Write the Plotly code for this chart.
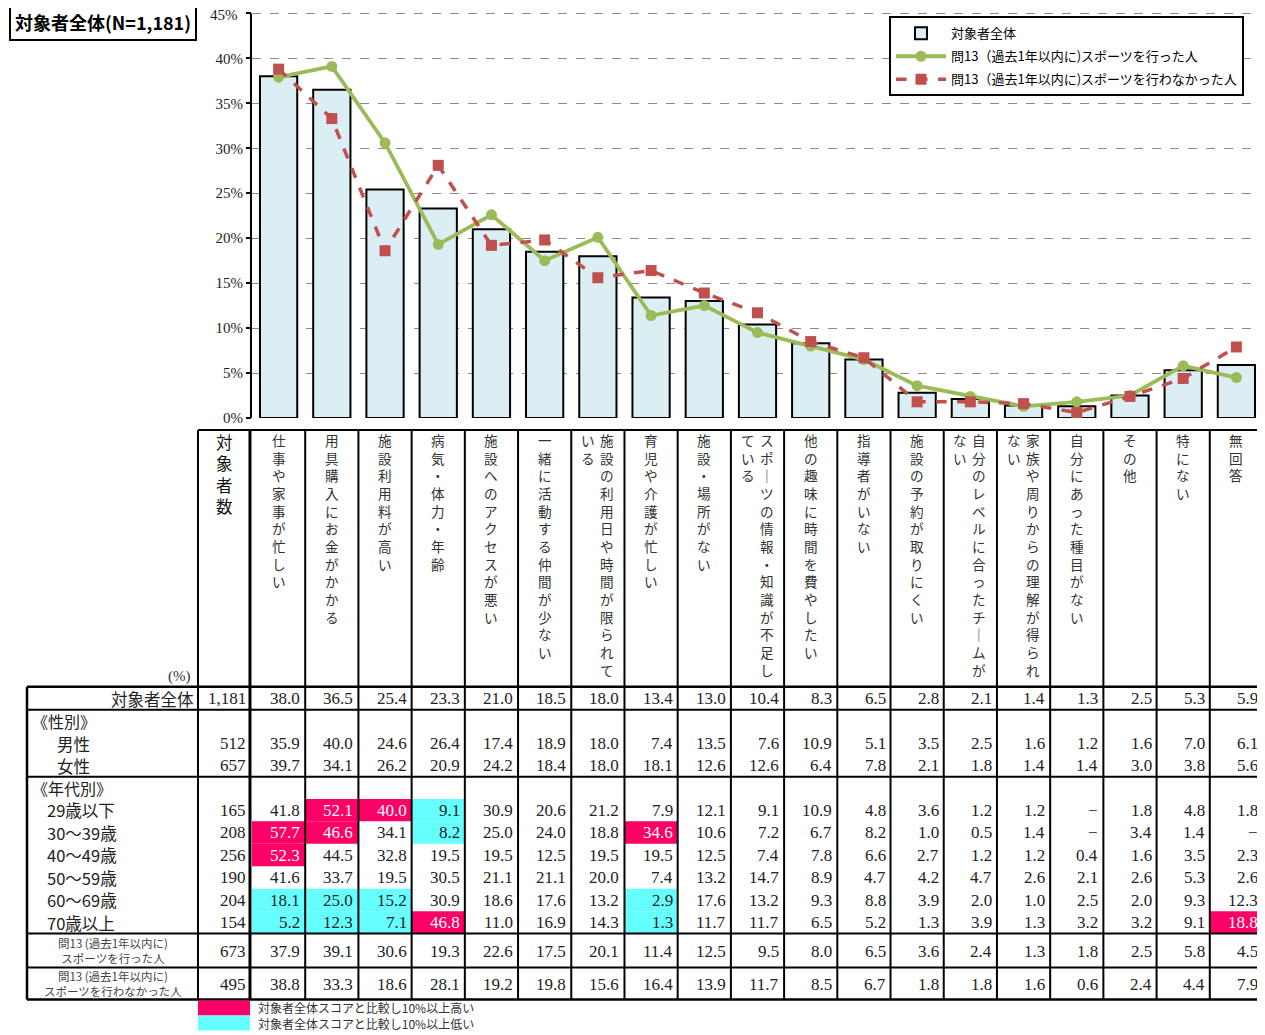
import plotly.graph_objects as go

# ---------------- data ----------------
categories = [
    "仕事や家事が忙しい", "用具購入にお金がかかる", "施設利用料が高い", "病気・体力・年齢",
    "施設へのアクセスが悪い", "一緒に活動する仲間が少ない", "施設の利用日や時間が限られている",
    "育児や介護が忙しい", "施設・場所がない", "スポーツの情報・知識が不足している",
    "他の趣味に時間を費やしたい", "指導者がいない", "施設の予約が取りにくい",
    "自分のレベルに合ったチームがない", "家族や周りからの理解が得られない",
    "自分にあった種目がない", "その他", "特にない", "無回答",
]
overall = [38.0, 36.5, 25.4, 23.3, 21.0, 18.5, 18.0, 13.4, 13.0, 10.4, 8.3, 6.5, 2.8, 2.1, 1.4, 1.3, 2.5, 5.3, 5.9]
did_sport = [37.9, 39.1, 30.6, 19.3, 22.6, 17.5, 20.1, 11.4, 12.5, 9.5, 8.0, 6.5, 3.6, 2.4, 1.3, 1.8, 2.5, 5.8, 4.5]
no_sport = [38.8, 33.3, 18.6, 28.1, 19.2, 19.8, 15.6, 16.4, 13.9, 11.7, 8.5, 6.7, 1.8, 1.8, 1.6, 0.6, 2.4, 4.4, 7.9]

male = [35.9, 40.0, 24.6, 26.4, 17.4, 18.9, 18.0, 7.4, 13.5, 7.6, 10.9, 5.1, 3.5, 2.5, 1.6, 1.2, 1.6, 7.0, 6.1]
female = [39.7, 34.1, 26.2, 20.9, 24.2, 18.4, 18.0, 18.1, 12.6, 12.6, 6.4, 7.8, 2.1, 1.8, 1.4, 1.4, 3.0, 3.8, 5.6]
age_u29 = [41.8, 52.1, 40.0, 9.1, 30.9, 20.6, 21.2, 7.9, 12.1, 9.1, 10.9, 4.8, 3.6, 1.2, 1.2, None, 1.8, 4.8, 1.8]
age_30s = [57.7, 46.6, 34.1, 8.2, 25.0, 24.0, 18.8, 34.6, 10.6, 7.2, 6.7, 8.2, 1.0, 0.5, 1.4, None, 3.4, 1.4, None]
age_40s = [52.3, 44.5, 32.8, 19.5, 19.5, 12.5, 19.5, 19.5, 12.5, 7.4, 7.8, 6.6, 2.7, 1.2, 1.2, 0.4, 1.6, 3.5, 2.3]
age_50s = [41.6, 33.7, 19.5, 30.5, 21.1, 21.1, 20.0, 7.4, 13.2, 14.7, 8.9, 4.7, 4.2, 4.7, 2.6, 2.1, 2.6, 5.3, 2.6]
age_60s = [18.1, 25.0, 15.2, 30.9, 18.6, 17.6, 13.2, 2.9, 17.6, 13.2, 9.3, 8.8, 3.9, 2.0, 1.0, 2.5, 2.0, 9.3, 12.3]
age_70p = [5.2, 12.3, 7.1, 46.8, 11.0, 16.9, 14.3, 1.3, 11.7, 11.7, 6.5, 5.2, 1.3, 3.9, 1.3, 3.2, 3.2, 9.1, 18.8]

n_overall = "1,181"
gender_labels = ["男性", "女性"]
gender_n = [512, 657]
age_labels = ["29歳以下", "30～39歳", "40～49歳", "50～59歳", "60～69歳", "70歳以上"]
age_n = [165, 208, 256, 190, 204, 154]
sport_n = [673, 495]

name_overall = "対象者全体"
name_did = "問13（過去1年以内に)スポーツを行った人"
name_not = "問13（過去1年以内に)スポーツを行わなかった人"
y_ticks = [0, 5, 10, 15, 20, 25, 30, 35, 40, 45]

# header (vertical) text: main column + overflow column to the left
header_main = [
    "仕事や家事が忙しい", "用具購入にお金がかかる", "施設利用料が高い", "病気・体力・年齢",
    "施設へのアクセスが悪い", "一緒に活動する仲間が少ない", "施設の利用日や時間が限られて",
    "育児や介護が忙しい", "施設・場所がない", "スポ｜ツの情報・知識が不足し",
    "他の趣味に時間を費やしたい", "指導者がいない", "施設の予約が取りにくい",
    "自分のレベルに合ったチ｜ムが", "家族や周りからの理解が得られ",
    "自分にあった種目がない", "その他", "特にない", "無回答",
]
header_over = ["", "", "", "", "", "", "いる", "", "", "ている", "", "", "", "ない", "ない", "", "", "", ""]

# ---------------- layout helpers ----------------
OFF = 8                      # page body margin
W, H = 1265 - OFF, 1035 - OFF
YR = (0, 45.6)
PX_PER_PCT = (418 - 13) / 45.0
L, R, B = 252, 1263, 418          # plot area in page pixels
T = B - PX_PER_PCT * YR[1]
ncat = len(categories)
XR = (-0.5, ncat - 0.5)


def px(X):
    return (X - L) / (R - L)


def py(Y):
    return (B - Y) / (B - T)


def bx(k):  # paper x of the left boundary of category k, via the axis range
    return (k - 0.5 - XR[0]) / (XR[1] - XR[0])


JP = "Noto Sans CJK JP"
SERIF = "Liberation Serif"

fig = go.Figure()
fig.add_trace(go.Bar(
    x=categories, y=overall, name=name_overall, legendgroup="a",
    marker=dict(color="#DAEEF3", line=dict(color="black", width=2)),
))
fig.add_trace(go.Scatter(
    x=categories, y=did_sport, name=name_did, mode="lines+markers", legendgroup="b",
    line=dict(color="#9BBB59", width=3.8),
    marker=dict(symbol="circle", size=11, color="#9BBB59"),
))
fig.add_trace(go.Scatter(
    x=categories, y=no_sport, name=name_not, mode="lines+markers", legendgroup="c",
    line=dict(color="#C0504D", width=3.5, dash="dash"),
    marker=dict(symbol="square", size=11, color="#C0504D"),
))

shapes = []
annotations = []

# ---- highlight cells (age rows, >10 pt diff vs overall) ----
age_rows = [age_u29, age_30s, age_40s, age_50s, age_60s, age_70p]
age_y = [810.5, 833, 855.5, 878, 900.5, 923]
half = 11.25
cell_color = {}
for r, vals in enumerate(age_rows):
    for i, v in enumerate(vals):
        if v is None:
            continue
        d = round(v - overall[i], 1)
        if d > 10.0:
            col = "#FF0066"
        elif d < -10.0:
            col = "#66FFFF"
        else:
            continue
        cell_color[(r, i)] = col
        shapes.append(dict(type="rect", xref="paper", yref="paper",
                           x0=bx(i), x1=bx(i + 1), y0=py(age_y[r] + half), y1=py(age_y[r] - half),
                           fillcolor=col, line=dict(width=0), layer="above"))

# ---- table lines ----
LINE = "black"
shapes.append(dict(type="line", xref="paper", yref="paper", x0=px(198), x1=1, y0=py(430), y1=py(430),
                   line=dict(color=LINE, width=2)))
for Y in [687, 710, 777, 934, 968, 1000]:
    shapes.append(dict(type="line", xref="paper", yref="paper", x0=px(27), x1=1, y0=py(Y), y1=py(Y),
                       line=dict(color=LINE, width=2.5 if Y in (687, 1000) else 2)))
shapes.append(dict(type="line", xref="paper", yref="paper", x0=px(27), x1=px(27), y0=py(687), y1=py(1000),
                   line=dict(color=LINE, width=2.5)))
shapes.append(dict(type="line", xref="paper", yref="paper", x0=px(198), x1=px(198), y0=py(430), y1=py(1000),
                   line=dict(color=LINE, width=2)))
for k in range(ncat + 1):
    dx = -0.002 if k == 0 else (-0.001 if k == ncat else 0)
    shapes.append(dict(type="line", xref="paper", yref="paper", x0=bx(k) + dx,
                       x1=bx(k) + dx, y0=py(430), y1=py(1000),
                       line=dict(color=LINE, width=3 if k == 0 else 2)))

# legend boxes at the bottom
shapes.append(dict(type="rect", xref="paper", yref="paper", x0=px(198), x1=px(250), y0=py(1016), y1=py(1001),
                   fillcolor="#FF0066", line=dict(width=0)))
shapes.append(dict(type="rect", xref="paper", yref="paper", x0=px(198), x1=px(250), y0=py(1031), y1=py(1016),
                   fillcolor="#66FFFF", line=dict(width=0)))


def ann(text, x, y, xref="paper", xanchor="center", yanchor="middle", size=16, family=JP,
        color="#222", xshift=0, align="center", yref="paper", **kw):
    annotations.append(dict(text=text, x=x, y=y, xref=xref, yref=yref, xanchor=xanchor,
                            yanchor=yanchor, showarrow=False, xshift=xshift, align=align,
                            font=dict(size=size, family=family, color=color), **kw))


# header vertical texts
ann("<br>".join("対象者数"), px(224), py(428), yanchor="top", size=16.5, color="#111")
for i in range(ncat):
    main = header_main[i]
    over = header_over[i]
    shift = 9 if over else 0
    ann("<br>".join(main), i, py(428), xref="x", yanchor="top", size=13.6, color="#333", xshift=shift)
    if over:
        ann("<br>".join(over), i, py(428), xref="x", yanchor="top", size=13.6, color="#333", xshift=-10)
ann("(%)", px(193), py(677), xanchor="right", size=15, family=SERIF, color="#333")


def fmt(v):
    return "−" if v is None else f"{v:.1f}"


def value_row(vals, Y, n_text, rowidx=None):
    ann(n_text, -0.5, py(Y), xref="x", xanchor="right", xshift=-4, size=17, family=SERIF)
    for i, v in enumerate(vals):
        c = "#222"
        if rowidx is not None and cell_color.get((rowidx, i)) == "#FF0066":
            c = "white"
        ann(fmt(v), i + 0.5, py(Y), xref="x", xanchor="right", xshift=-3, size=17, family=SERIF, color=c)


# overall row
ann("対象者全体", px(196), py(699), xanchor="right", size=16.5)
value_row(overall, 699, n_overall)
# gender
ann("《性別》", px(30), py(721), xanchor="left", size=16)
for lab, n, vals, Y in zip(gender_labels, gender_n, [male, female], [744, 766]):
    ann(lab, px(55), py(Y), xanchor="left", size=16.5)
    value_row(vals, Y, str(n))
# age
ann("《年代別》", px(30), py(788), xanchor="left", size=16)
for r, (lab, n, vals, Y) in enumerate(zip(age_labels, age_n, age_rows, age_y)):
    ann(lab, px(45), py(Y), xanchor="left", size=16.5)
    value_row(vals, Y, str(n), rowidx=r)
# sport rows
ann("問13 (過去1年以内に)<br>スポーツを行った人", px(113), py(951), size=11.5, color="#444")
value_row(did_sport, 952, str(sport_n[0]))
ann("問13 (過去1年以内に)<br>スポーツを行わなかった人", px(113), py(984), size=11.5, color="#444")
value_row(no_sport, 985, str(sport_n[1]))

# bottom legend text
ann("対象者全体スコアと比較し10%以上高い", px(256), py(1008), xanchor="left", size=12, color="#333")
ann("対象者全体スコアと比較し10%以上低い", px(256), py(1024), xanchor="left", size=12, color="#333")

# title box
ann("<b>対象者全体(N=1,181)</b>", px(9), py(3), xanchor="left", yanchor="top", size=18, color="black",
    bordercolor="black", borderwidth=2, borderpad=4, bgcolor="white")

# the top tick label sits at the very top edge of the page, where plotly drops it;
# draw it as text aligned on the axis value instead
ann(f"{y_ticks[-1]}%", 0, y_ticks[-1], xanchor="right", xshift=-12, yshift=-2, size=15, family=SERIF, yref="y")

fig.update_layout(
    width=W, height=H,
    margin=dict(l=L - OFF, r=W - (R - OFF), t=max(T - OFF, 0), b=H - (B - OFF), pad=0),
    plot_bgcolor="white", paper_bgcolor="white",
    bargap=0.3,
    showlegend=True,
    legend=dict(x=px(1244), y=py(16), xanchor="right", yanchor="top",
                bgcolor="white", bordercolor="black", borderwidth=2,
                font=dict(family=JP, size=13, color="black"), tracegroupgap=3,
                itemwidth=50),
    shapes=shapes,
    annotations=annotations,
)
fig.update_xaxes(range=list(XR), showticklabels=False, showgrid=False, zeroline=False, showline=False,
                 ticks="")
fig.update_yaxes(range=list(YR), tickvals=y_ticks, ticktext=[f"{t}%" for t in y_ticks[:-1]] + [""],
                 showline=False, ticks="outside", ticklen=5,
                 tickwidth=2, tickcolor="black", showgrid=True, gridcolor="#8c8c8c", griddash="dash",
                 gridwidth=1, zeroline=False,
                 tickfont=dict(family=SERIF, size=15, color="#222"))
# y axis line from 0% to 45% only
shapes.append(dict(type="line", xref="paper", yref="y", x0=-0.001, x1=-0.001, y0=y_ticks[0], y1=y_ticks[-1],
                   line=dict(color="black", width=2)))
fig.update_layout(shapes=shapes)

fig.write_html("out.html")
